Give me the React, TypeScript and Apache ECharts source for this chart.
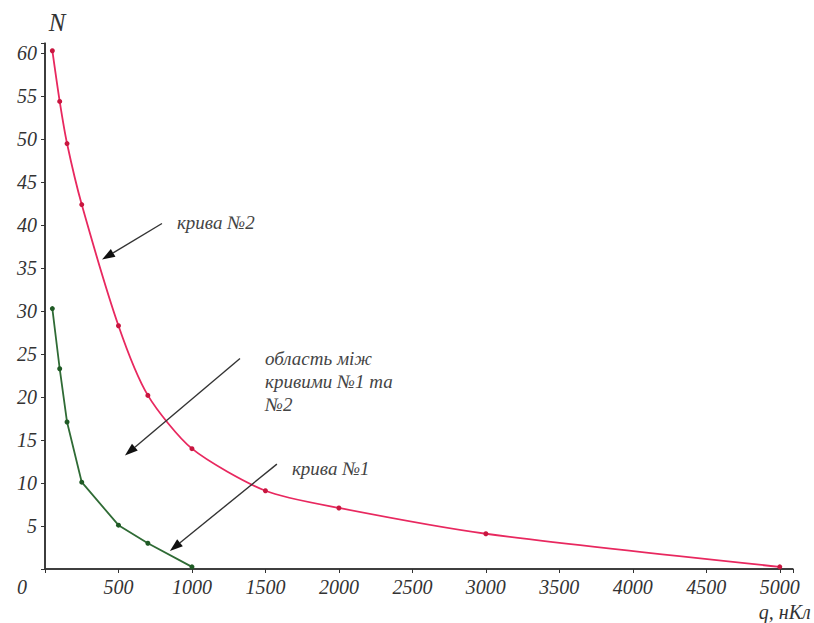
import React, { useEffect, useRef } from "react";
import * as echarts from "echarts";

const curve2X = [50, 100, 150, 250, 500, 700, 1000, 1500, 2000, 3000, 5000];
const curve2Y = [60.3, 54.4, 49.5, 42.4, 28.3, 20.2, 14.0, 9.1, 7.1, 4.1, 0.25];
const curve1X = [50, 100, 150, 250, 500, 700, 1000];
const curve1Y = [30.3, 23.3, 17.1, 10.1, 5.1, 3.0, 0.25];
const xTickStep = 500;
const xTickMax = 5000;
const yTickStep = 5;
const yTickMax = 60;
// annotation arrows: [fromX, fromY, toX, toY] in data units
const arrowLines = [
  [796, 40.2, 388, 36.0],
  [1327, 24.5, 544, 13.2],
  [1578, 12.2, 850, 2.1],
];
const arrowTexts = ["крива №2", "область між\nкривими №1 та\n№2", "крива №1"];
const axisTitles = ["N", "0", "q, нКл"];

const FONT = "Liberation Serif";

export default function App() {
  const ref = useRef<HTMLDivElement>(null);
  useEffect(() => {
    if (!ref.current) return;
    const chart = echarts.init(ref.current, undefined, { renderer: "svg" });
    const X_MAX = 5090;
    const Y_MAX = 61.2;
    const textOffsets = [
      [15, -1],
      [25, 0],
      [15, 4],
    ];
    const renderArrow = (params: any, api: any) => {
      const i = params.dataIndex;
      const p1 = api.coord([api.value(0), api.value(1)]);
      const p2 = api.coord([api.value(2), api.value(3)]);
      const dx = p2[0] - p1[0];
      const dy = p2[1] - p1[1];
      const len = Math.sqrt(dx * dx + dy * dy);
      const ux = dx / len;
      const uy = dy / len;
      const headL = 13;
      const headW = 4.5;
      const bx = p2[0] - ux * headL;
      const by = p2[1] - uy * headL;
      const off = textOffsets[i];
      return {
        type: "group",
        children: [
          {
            type: "line",
            shape: { x1: p1[0], y1: p1[1], x2: bx, y2: by },
            style: { stroke: "#333", lineWidth: 1.4 },
          },
          {
            type: "polygon",
            shape: {
              points: [
                [p2[0], p2[1]],
                [bx - uy * headW, by + ux * headW],
                [bx + uy * headW, by - ux * headW],
              ],
            },
            style: { fill: "#111" },
          },
          {
            type: "text",
            x: p1[0] + off[0],
            y: p1[1] + off[1] - 11,
            style: {
              text: arrowTexts[i],
              fill: "#444",
              fontFamily: FONT,
              fontStyle: "italic",
              fontSize: 19,
              lineHeight: 23,
              align: "left",
              verticalAlign: "top",
            },
          },
        ],
      };
    };
    const titleAnchors = [
      [0, Y_MAX],
      [0, 0],
      [xTickMax, 0],
    ];
    const titleStyles = [
      { dx: 12, dy: -21, size: 25, align: "center" },
      { dx: -23, dy: 18, size: 20, align: "center" },
      { dx: 31, dy: 43, size: 20, align: "right" },
    ];
    const renderTitle = (params: any, api: any) => {
      const i = params.dataIndex;
      const p = api.coord([api.value(0), api.value(1)]);
      const s = titleStyles[i];
      return {
        type: "text",
        x: p[0] + s.dx,
        y: p[1] + s.dy,
        style: {
          text: axisTitles[i],
          fill: "#333",
          fontFamily: FONT,
          fontStyle: "italic",
          fontSize: s.size,
          align: s.align,
          verticalAlign: "middle",
        },
      };
    };
    // axis lines drawn through the scales: [x1, y1, x2, y2]
    const axisSegments = [
      [0, 0, 0, Y_MAX],
      [0, 0, X_MAX, 0],
    ];
    const renderAxisLine = (params: any, api: any) => {
      const p1 = api.coord([api.value(0), api.value(1)]);
      const p2 = api.coord([api.value(2), api.value(3)]);
      return {
        type: "line",
        shape: { x1: p1[0], y1: p1[1], x2: p2[0], y2: p2[1] },
        style: { stroke: "#333", lineWidth: 1.6 },
      };
    };
    chart.setOption({
      animation: false,
      textStyle: { fontFamily: FONT, fontStyle: "italic", color: "#333" },
      grid: { left: 45, right: 21, top: 43, bottom: 54 },
      xAxis: {
        type: "value",
        min: 0,
        max: X_MAX,
        interval: xTickStep,
        axisLine: { show: true, lineStyle: { color: "#333333", width: 1.5 } },
        axisTick: { show: true, length: 4, lineStyle: { color: "#333333", width: 1 } },
        axisLabel: {
          color: "#333333",
          fontSize: 20,
          fontStyle: "italic",
          fontFamily: FONT,
          formatter: (v: number) => (v > 0 && v <= xTickMax && v % xTickStep === 0 ? String(v) : ""),
        },
        splitLine: { show: false },
      },
      yAxis: {
        type: "value",
        min: 0,
        max: Y_MAX,
        interval: yTickStep,
        axisLine: { show: true, lineStyle: { color: "#333333", width: 1.5 } },
        axisTick: { show: true, length: 4, lineStyle: { color: "#333333", width: 1 } },
        axisLabel: {
          color: "#333333",
          fontSize: 20,
          fontStyle: "italic",
          fontFamily: FONT,
          formatter: (v: number) => (v > 0 && v <= yTickMax && v % yTickStep === 0 ? String(v) : ""),
        },
        splitLine: { show: false },
      },
      series: [
        {
          type: "line",
          name: "крива №2",
          data: curve2X.map((x, i) => [x, curve2Y[i]]),
          smooth: 0.25,
          symbol: "circle",
          symbolSize: 5,
          lineStyle: { color: "#e8285f", width: 1.8 },
          itemStyle: { color: "#c8163f" },
        },
        {
          type: "line",
          name: "крива №1",
          data: curve1X.map((x, i) => [x, curve1Y[i]]),
          symbol: "circle",
          symbolSize: 5,
          lineStyle: { color: "#2f6b35", width: 1.8 },
          itemStyle: { color: "#1f5a25" },
        },
        {
          type: "custom",
          name: "axes",
          silent: true,
          clip: false,
          data: axisSegments,
          encode: { x: [0, 2], y: [1, 3] },
          renderItem: renderAxisLine,
          z: 1,
        },
        {
          type: "custom",
          name: "arrows",
          silent: true,
          clip: false,
          data: arrowLines,
          encode: { x: [0, 2], y: [1, 3] },
          renderItem: renderArrow,
          z: 5,
        },
        {
          type: "custom",
          name: "titles",
          silent: true,
          clip: false,
          data: titleAnchors,
          encode: { x: 0, y: 1 },
          renderItem: renderTitle,
          z: 5,
        },
      ],
    });
    return () => chart.dispose();
  }, []);
  return <div ref={ref} style={{ width: 814, height: 623, position: "absolute", left: 0, top: 0 }} />;
}
